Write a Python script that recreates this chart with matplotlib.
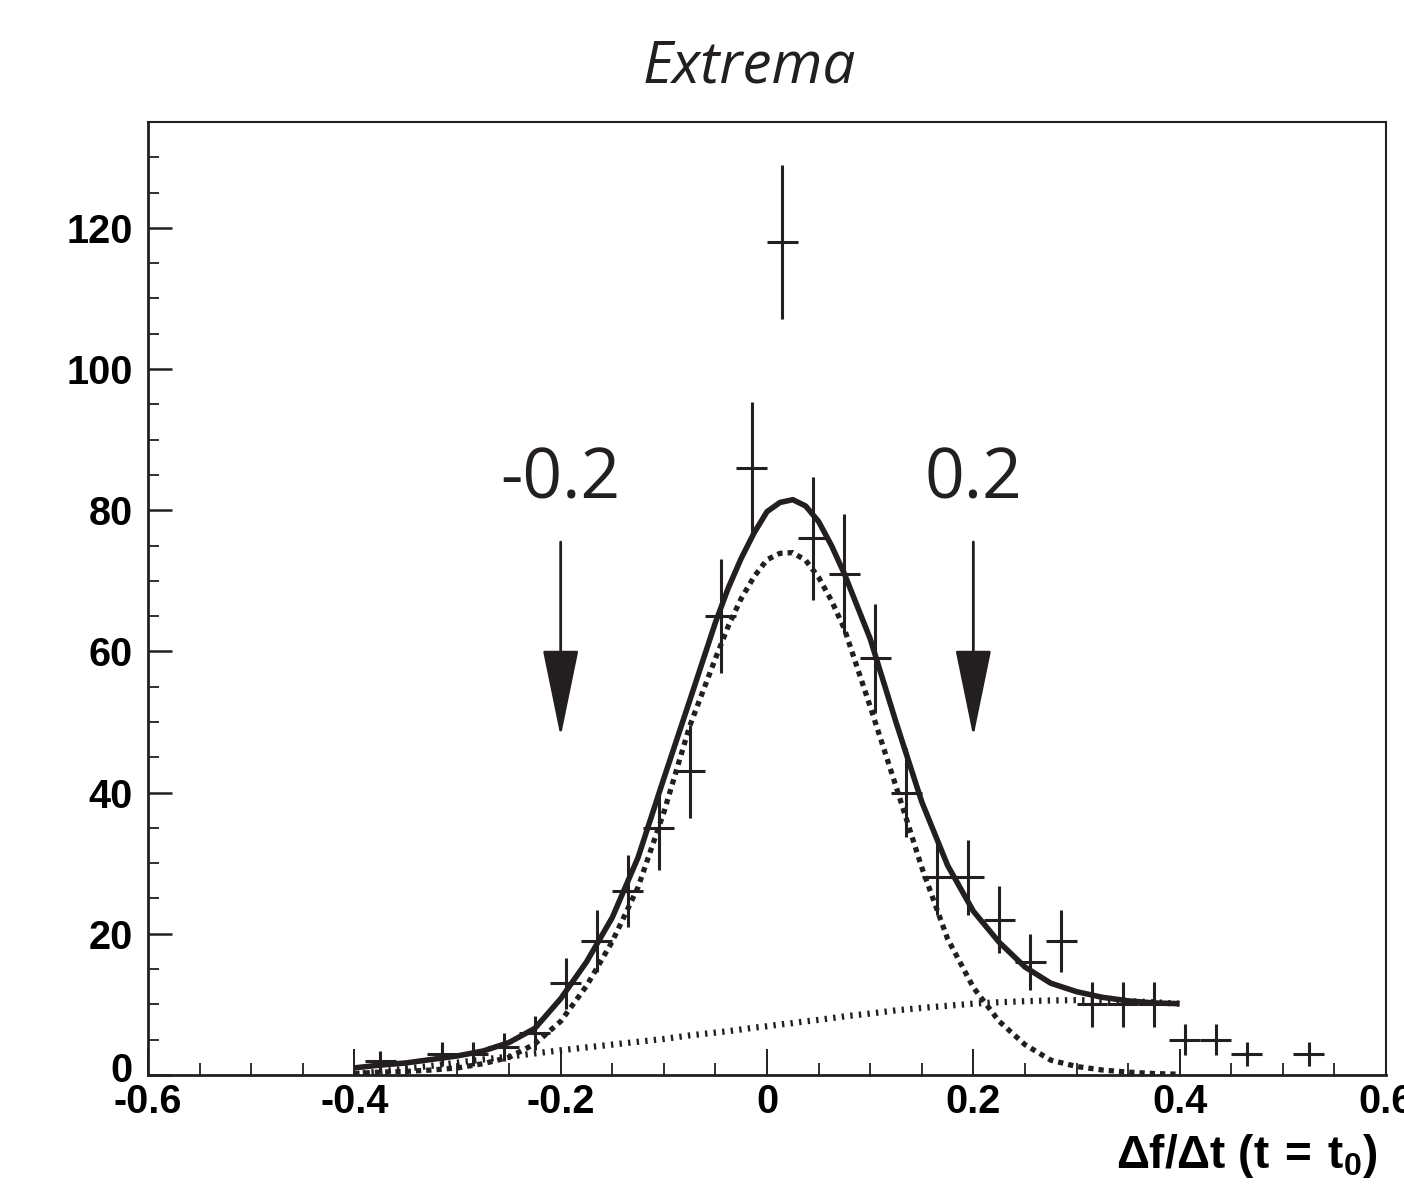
import matplotlib
matplotlib.use('Agg')
import matplotlib.pyplot as plt
from matplotlib.ticker import MultipleLocator, FixedLocator
from matplotlib.transforms import ScaledTranslation

INK = '#231f20'

# histogram: bin centre, counts and error bars
bin_centres = [-0.375, -0.315, -0.285, -0.255, -0.225, -0.195, -0.165, -0.135,
               -0.105, -0.075, -0.045, -0.015, 0.015, 0.045, 0.075, 0.105,
               0.135, 0.165, 0.195, 0.225, 0.255, 0.285, 0.315, 0.345,
               0.375, 0.405, 0.435, 0.465, 0.525]
bin_counts = [2, 3, 3, 4, 6, 13, 19, 26,
              35, 43, 65, 86, 118, 76, 71, 59,
              40, 28, 28, 22, 16, 19, 10, 10,
              10, 5, 5, 3, 3]
bin_errors = [1.4, 1.7, 1.7, 2.0, 2.4, 3.6, 4.4, 5.1,
              5.9, 6.6, 8.1, 9.3, 10.9, 8.7, 8.4, 7.7,
              6.3, 5.3, 5.3, 4.7, 4.0, 4.4, 3.2, 3.2,
              3.2, 2.2, 2.2, 1.7, 1.7]
bin_half_width = 0.015

# fit curves sampled from the figure (denser around the peak)
curve_x = [-0.4, -0.375, -0.35, -0.325, -0.3, -0.275, -0.25, -0.225, -0.2,
           -0.175, -0.15, -0.125, -0.1, -0.075, -0.05, -0.0375, -0.025,
           -0.0125, 0.0, 0.0125, 0.025, 0.0375, 0.05, 0.0625, 0.075,
           0.1, 0.125, 0.15, 0.175, 0.2, 0.225, 0.25, 0.275,
           0.3, 0.325, 0.35, 0.375, 0.4]
total_fit = [1.0, 1.4, 1.7, 2.2, 2.7, 3.4, 4.6, 6.6, 10.8,
             16.0, 22.3, 30.8, 42.0, 53.0, 64.1, 69.0, 73.2,
             76.8, 79.8, 81.1, 81.5, 80.6, 78.4, 75.0, 71.0,
             61.8, 50.0, 38.7, 29.7, 23.2, 18.8, 15.3, 13.0,
             11.8, 11.0, 10.5, 10.2, 10.1]
signal_fit = [0.2, 0.4, 0.5, 0.7, 1.0, 1.6, 2.5, 4.4, 7.6,
              12.6, 18.9, 26.6, 37.2, 49.4, 59.0, 63.6, 67.5,
              70.6, 73.0, 73.9, 74.0, 72.9, 70.5, 67.2, 63.2,
              52.2, 40.9, 29.4, 19.3, 12.4, 7.6, 4.3, 2.1,
              1.2, 0.7, 0.4, 0.2, 0.1]
background_fit = [0.1, 0.5, 0.9, 1.3, 1.75, 2.2, 2.6, 3.05, 3.5,
                  3.9, 4.3, 4.7, 5.1, 5.6, 6.0, 6.2, 6.45,
                  6.7, 6.9, 7.15, 7.35, 7.6, 7.8, 8.05, 8.3,
                  8.7, 9.15, 9.5, 9.8, 10.1, 10.3, 10.45, 10.55,
                  10.6, 10.55, 10.45, 10.3, 10.1]

cut_positions = [-0.2, 0.2]
cut_labels = ['-0.2', '0.2']

x_ticks = [-0.6, -0.4, -0.2, 0, 0.2, 0.4, 0.6]
x_tick_labels = ['-0.6', '-0.4', '-0.2', '0', '0.2', '0.4', '0.6']
y_ticks = [0, 20, 40, 60, 80, 100, 120]
y_tick_labels = ['0', '20', '40', '60', '80', '100', '120']

plt.rcParams['font.family'] = ['Liberation Sans', 'DejaVu Sans']
plt.rcParams['mathtext.fontset'] = 'custom'
plt.rcParams['mathtext.rm'] = 'Liberation Sans'
plt.rcParams['mathtext.bf'] = 'Liberation Sans:bold'
plt.rcParams['mathtext.it'] = 'Liberation Sans:italic'
plt.rcParams['lines.scale_dashes'] = False

fig = plt.figure(figsize=(14.04, 11.94), dpi=100)
ax = fig.add_axes([0.1054, 0.0997, 0.8818, 0.7981])

# data points
ax.errorbar(bin_centres, bin_counts, xerr=bin_half_width, yerr=bin_errors,
            fmt='none', ecolor=INK, elinewidth=2.2, capsize=0, zorder=2)

# fits
ax.plot(curve_x, total_fit, color=INK, lw=4.0, solid_joinstyle='round',
        solid_capstyle='butt', zorder=3)
ax.plot(curve_x, signal_fit, color=INK, lw=3.8, dashes=(3.8, 3.6),
        dash_capstyle='butt', zorder=3)
ax.plot(curve_x, background_fit, color=INK, lw=4.5, dashes=(1.7, 4.5),
        dash_capstyle='butt', zorder=3)

# cut arrows
for pos, lab in zip(cut_positions, cut_labels):
    ax.annotate('', xy=(pos, 47.9), xytext=(pos, 75.5),
                arrowprops=dict(arrowstyle='-|>,head_length=5.6,head_width=1.15',
                                mutation_scale=10, color=INK, lw=2.0,
                                shrinkA=0, shrinkB=0))
    ax.text(pos, 81.6, lab, ha='center', va='baseline', fontsize=50,
            family='Open Sans', color=INK)

ax.set_xlim(-0.6, 0.6)
ax.set_ylim(0, 135)
ax.xaxis.set_major_locator(FixedLocator(x_ticks))
ax.xaxis.set_minor_locator(MultipleLocator(0.05))
ax.yaxis.set_major_locator(FixedLocator(y_ticks))
ax.yaxis.set_minor_locator(MultipleLocator(5))
ax.set_xticklabels(x_tick_labels, fontsize=28.5, fontweight='bold', color='black')
ax.set_yticklabels(y_tick_labels, fontsize=28.5, fontweight='bold', color='black')

ax.tick_params(axis='both', which='both', direction='in', top=False, right=False,
               color=INK)
ax.tick_params(axis='y', which='major', length=17, width=1.8, pad=11)
ax.tick_params(axis='y', which='minor', length=8, width=1.3)
ax.tick_params(axis='x', which='major', length=19, width=1.4, pad=6)
ax.tick_params(axis='x', which='minor', length=9, width=1.3)

# ROOT lifts the "0" label a little off the x axis
zero_lab = ax.get_yticklabels()[0]
zero_lab.set_transform(zero_lab.get_transform()
                       + ScaledTranslation(0, 6 / 72, fig.dpi_scale_trans))

for side in ['left', 'bottom']:
    ax.spines[side].set_linewidth(2.0)
for side in ['top', 'right']:
    ax.spines[side].set_linewidth(1.5)
for sp in ax.spines.values():
    sp.set_color(INK)

fig.text(0.981, 0.0218, r'$\mathbf{Δf/Δt\ (t\:=\:t_0)}$', ha='right',
         va='baseline', fontsize=33)
fig.text(749 / 1404, 0.9313, 'Extrema', ha='center', va='baseline',
         fontsize=42, family='Open Sans', style='italic', color=INK)

fig.savefig('out.png', dpi=100)
